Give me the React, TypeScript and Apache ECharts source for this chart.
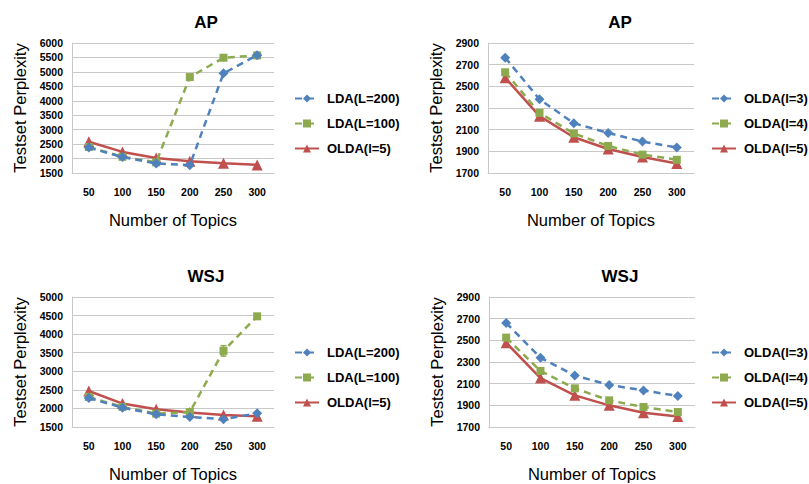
import React, { useEffect, useRef } from "react";
import * as echarts from "echarts";

const categories = ["50", "100", "150", "200", "250", "300"];

const apLda200 = [2380, 2050, 1830, 1770, 4950, 5580];
const apLda100 = [2400, 2060, 1870, 4820, 5490, 5570];
const apOlda5 = [2580, 2230, 2020, 1910, 1840, 1780];

const apOlda3 = [2765, 2380, 2160, 2070, 1990, 1935];
const apOlda4 = [2630, 2255, 2065, 1950, 1870, 1822];
const apOlda5b = [2580, 2225, 2030, 1922, 1848, 1788];

const wsjLda200 = [2280, 2020, 1840, 1770, 1710, 1870];
const wsjLda100 = [2310, 2040, 1860, 1900, 3550, 4480];
const wsjOlda5 = [2470, 2130, 1980, 1890, 1820, 1790];
const wsjLda100Err = [[4, 3410, 3690]];

const wsjOlda3 = [2660, 2340, 2175, 2088, 2038, 1986];
const wsjOlda4 = [2525, 2217, 2057, 1946, 1885, 1838];
const wsjOlda5b = [2478, 2152, 1992, 1900, 1832, 1797];

const BLUE = "#4F81BD";
const GREEN = "#8DAA4F";
const RED = "#C0504D";
const FONT = "Liberation Sans";

const panels = [
  { title: "AP", left: 72, top: 43, width: 202, min: 1500, max: 6000, interval: 500, tx: 201, ty: 9, lx: 289, ly: 87,
    names: ["LDA(L=200)", "LDA(L=100)", "OLDA(l=5)"], data: [apLda200, apLda100, apOlda5] },
  { title: "AP", left: 488, top: 43, width: 206, min: 1700, max: 2900, interval: 200, tx: 615, ty: 9, lx: 706, ly: 87,
    names: ["OLDA(l=3)", "OLDA(l=4)", "OLDA(l=5)"], data: [apOlda3, apOlda4, apOlda5b] },
  { title: "WSJ", left: 72, top: 297, width: 202, min: 1500, max: 5000, interval: 500, tx: 201, ty: 263, lx: 289, ly: 341,
    names: ["LDA(L=200)", "LDA(L=100)", "OLDA(l=5)"], data: [wsjLda200, wsjLda100, wsjOlda5] },
  { title: "WSJ", left: 489, top: 297, width: 206, min: 1700, max: 2900, interval: 200, tx: 615, ty: 263, lx: 706, ly: 341,
    names: ["OLDA(l=3)", "OLDA(l=4)", "OLDA(l=5)"], data: [wsjOlda3, wsjOlda4, wsjOlda5b] },
];

const colors = [BLUE, GREEN, RED];
const symbols = ["diamond", "rect", "triangle"];
const symbolSizes = [10, 8, 11];

export default function App() {
  const ref = useRef<HTMLDivElement>(null);
  useEffect(() => {
    if (!ref.current) return;
    const chart = echarts.init(ref.current, null, { renderer: "svg" });
    const grid: any[] = [];
    const xAxis: any[] = [];
    const yAxis: any[] = [];
    const title: any[] = [];
    const legend: any[] = [];
    const series: any[] = [];
    panels.forEach((p, i) => {
      grid.push({ left: p.left, top: p.top, width: p.width, height: 130 });
      xAxis.push({
        type: "category", gridIndex: i, data: categories, boundaryGap: true,
        name: "Number of Topics", nameLocation: "middle", nameGap: 38,
        nameTextStyle: { fontFamily: FONT, fontSize: 16.5, color: "#000" },
        axisLine: { show: true, lineStyle: { color: "#c8c8c8", width: 1 } },
        axisTick: { show: false },
        axisLabel: { fontFamily: FONT, fontSize: 10.5, fontWeight: "bold", color: "#000", margin: 13 },
      });
      yAxis.push({
        type: "value", gridIndex: i, min: p.min, max: p.max, interval: p.interval,
        name: "Testset Perplexity", nameLocation: "middle", nameGap: 44, nameRotate: 90,
        nameTextStyle: { fontFamily: FONT, fontSize: 16.5, color: "#000" },
        axisLine: { show: true, lineStyle: { color: "#c8c8c8", width: 1 } },
        axisTick: { show: false },
        splitLine: { show: true, lineStyle: { color: "#c8c8c8", width: 1 } },
        axisLabel: {
          fontFamily: FONT, fontSize: 10.5, fontWeight: "bold", color: "#000", margin: 9,
          formatter: (v: number) => String(v),
        },
      });
      title.push({
        text: p.title, left: p.tx, top: p.ty, textAlign: "center",
        textStyle: { fontFamily: FONT, fontSize: 17, fontWeight: "bold", color: "#000" },
      });
      legend.push({
        data: p.names.map((n) => ({ name: n })),
        orient: "vertical", left: p.lx, top: p.ly, itemWidth: 24, itemHeight: 10, itemGap: 12,
        textStyle: { fontFamily: FONT, fontSize: 13, fontWeight: "bold", color: "#000", padding: [0, 0, 0, 3] },
        selectedMode: false,
      });
      p.data.forEach((d, k) => {
        series.push({
          type: "line", name: p.names[k], xAxisIndex: i, yAxisIndex: i, data: d,
          symbol: symbols[k], symbolSize: symbolSizes[k],
          itemStyle: { color: colors[k] },
          lineStyle: { color: colors[k], width: 2.5, type: k < 2 ? [7, 5] : "solid" },
          z: 3 - k + 2,
        });
      });
    });
    series.push({
      type: "custom", xAxisIndex: 2, yAxisIndex: 2, data: wsjLda100Err, z: 10,
      renderItem: (params: any, api: any) => {
        const lo = api.coord([api.value(0), api.value(1)]);
        const hi = api.coord([api.value(0), api.value(2)]);
        const s = { stroke: GREEN, lineWidth: 1.5 };
        return {
          type: "group",
          children: [
            { type: "line", shape: { x1: lo[0], y1: lo[1], x2: hi[0], y2: hi[1] }, style: s },
            { type: "line", shape: { x1: lo[0] - 3, y1: lo[1], x2: lo[0] + 3, y2: lo[1] }, style: s },
            { type: "line", shape: { x1: hi[0] - 3, y1: hi[1], x2: hi[0] + 3, y2: hi[1] }, style: s },
          ],
        };
      },
    });
    chart.setOption({ animation: false, backgroundColor: "#fff", grid, xAxis, yAxis, title, legend, series });
    return () => chart.dispose();
  }, []);
  return <div ref={ref} style={{ width: 809, height: 484, position: "absolute", left: 0, top: 0 }} />;
}
